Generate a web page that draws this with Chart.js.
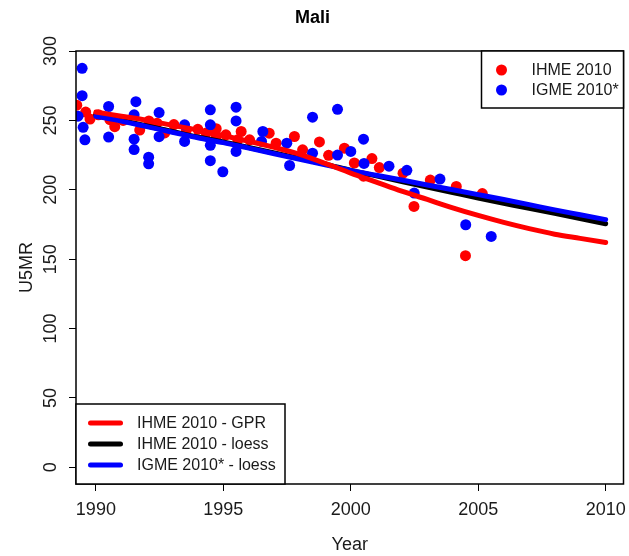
<!DOCTYPE html>
<html>
<head>
<meta charset="utf-8">
<script src="https://cdn.jsdelivr.net/npm/chart.js@4.4.1/dist/chart.umd.min.js"></script>
<style>
  html, body { margin: 0; padding: 0; background: #fff; }
</style>
</head>
<body>
<canvas id="myChart" width="629" height="556"></canvas>
<script>
// survey points
var ihmeYears = [1989.25, 1989.6, 1989.77, 1990.1, 1990.55, 1990.74, 1991.07, 1991.72, 1992.08, 1992.4,
                 1992.7, 1993.06, 1993.55, 1994.0, 1994.33, 1994.72, 1994.72, 1995.1, 1995.57, 1995.7,
                 1996.03, 1996.8, 1997.07, 1997.79, 1998.11, 1998.77, 1999.13, 1999.75, 2000.14, 2000.5,
                 2000.83, 2001.12, 2002.05, 2002.48, 2003.12, 2004.14, 2004.5, 2005.16];
var ihmeU5mr  = [261, 256, 251, 254, 250.5, 245.5, 250, 243, 249.6, 248,
                 241, 247, 243, 243.6, 241, 244, 238, 239.6, 236, 242,
                 236, 240.8, 233.6, 238.4, 228.8, 234.5, 224.8, 230, 219.3, 209.8,
                 222.5, 216, 212, 188, 207, 202.4, 152.5, 197.3];

var igmeYears = [1989.3, 1989.46, 1989.46, 1989.5, 1989.57, 1990.5, 1990.5, 1991.57, 1991.5, 1991.5,
                 1991.5, 1992.07, 1992.07, 1992.48, 1992.48, 1993.48, 1993.48, 1994.49, 1994.49, 1994.49,
                 1994.49, 1994.98, 1995.5, 1995.5, 1995.5, 1996.55, 1996.5, 1997.49, 1997.6, 1998.5,
                 1998.5, 1999.48, 1999.48, 2000.0, 2000.5, 2000.52, 2001.5, 2002.2, 2002.49, 2003.5,
                 2004.51, 2005.51];
var igmeU5mr  = [253, 287.5, 267.8, 245, 236, 260, 238, 263.5, 254, 236.5,
                 229, 223.5, 218.7, 255.6, 238.3, 246.8, 234.8, 257.6, 246.8, 232,
                 221, 213, 259.5, 249.6, 227.6, 242, 234.8, 233.6, 217.5, 252.3,
                 226.4, 258, 225, 227.6, 236.5, 219, 217, 214, 197.6, 207.7,
                 174.8, 166.4];

// fitted curves
var fitYears  = [1990, 1991, 1992, 1993, 1994, 1995, 1996, 1997, 1998, 1999, 2000,
                 2001, 2002, 2003, 2004, 2005, 2006, 2007, 2008, 2009, 2010];
var gprU5mr   = [256, 253, 250, 246.5, 243, 239, 235, 230.5, 225.5, 219, 212,
                 205.5, 199, 193, 187, 181.5, 176.5, 172, 168, 165, 162];
var ihmeLoess = [254, 250, 246, 242, 238, 234.5, 230.5, 226.5, 222.5, 218.5, 214,
                 210, 206, 202, 198, 194, 190.3, 186.6, 183, 179.3, 175.5];
var igmeLoess = [253, 249.5, 245.5, 241.5, 237.5, 234, 230, 226, 222, 218, 214,
                 210.5, 207, 203.5, 200, 196.5, 193, 189.3, 185.5, 182, 178.5];

var xTicks = [1990, 1995, 2000, 2005, 2010];
var yTicks = [0, 50, 100, 150, 200, 250, 300];

function pairs(xs, ys) {
    return xs.map(function (x, i) { return { x: x, y: ys[i] }; });
}

var FONT = 'Liberation Sans, Arial, sans-serif';
var ink = '#1a1a1a';

// R style box and the two legends
var rLegends = {
    id: 'rLegends',
    afterDatasetsDraw: function (chart) {
        var c = chart.ctx, a = chart.chartArea, ds = chart.data.datasets;
        c.save();
        c.strokeStyle = '#000';
        c.lineWidth = 1.5;
        c.strokeRect(a.left, a.top, a.right - a.left, a.bottom - a.top);

        c.font = '16px ' + FONT;
        c.textBaseline = 'middle';
        c.textAlign = 'left';

        // point legend, top right
        var w = 142, h = 57, lx = a.right - w, ly = a.top;
        c.fillStyle = '#fff';
        c.fillRect(lx, ly, w, h);
        c.strokeRect(lx, ly, w, h);
        [0, 1].forEach(function (k, i) {
            var y = ly + 19 + i * 20;
            c.fillStyle = ds[k].backgroundColor;
            c.beginPath();
            c.arc(lx + 20, y, 5.5, 0, Math.PI * 2);
            c.fill();
            c.fillStyle = ink;
            c.fillText(ds[k].label, lx + 50, y + 1);
        });

        // line legend, bottom left
        w = 209; h = 80; lx = a.left; ly = a.bottom - h;
        c.fillStyle = '#fff';
        c.fillRect(lx, ly, w, h);
        c.strokeRect(lx, ly, w, h);
        c.lineCap = 'round';
        [2, 3, 4].forEach(function (k, i) {
            var y = ly + 19 + i * 21;
            c.strokeStyle = ds[k].borderColor;
            c.lineWidth = 5;
            c.beginPath();
            c.moveTo(lx + 14.5, y);
            c.lineTo(lx + 44.5, y);
            c.stroke();
            c.fillStyle = ink;
            c.fillText(ds[k].label, lx + 61, y + 1);
        });
        c.restore();
    }
};

var ctx = document.getElementById('myChart').getContext('2d');
var chart = new Chart(ctx, {
    type: 'scatter',
    data: {
        datasets: [{
            label: 'IHME 2010',
            data: pairs(ihmeYears, ihmeU5mr),
            backgroundColor: '#ff0000',
            pointRadius: 5.5,
            pointBorderWidth: 0,
            order: 5
        }, {
            label: 'IGME 2010*',
            data: pairs(igmeYears, igmeU5mr),
            backgroundColor: '#0000ff',
            pointRadius: 5.5,
            pointBorderWidth: 0,
            order: 4
        }, {
            label: 'IHME 2010 - GPR',
            data: pairs(fitYears, gprU5mr),
            showLine: true,
            borderColor: '#ff0000',
            borderWidth: 5,
            pointRadius: 0,
            cubicInterpolationMode: 'monotone',
            borderCapStyle: 'round',
            order: 1
        }, {
            label: 'IHME 2010 - loess',
            data: pairs(fitYears, ihmeLoess),
            showLine: true,
            borderColor: '#000000',
            borderWidth: 5,
            pointRadius: 0,
            cubicInterpolationMode: 'monotone',
            borderCapStyle: 'round',
            order: 3
        }, {
            label: 'IGME 2010* - loess',
            data: pairs(fitYears, igmeLoess),
            showLine: true,
            borderColor: '#0000ff',
            borderWidth: 5,
            pointRadius: 0,
            cubicInterpolationMode: 'monotone',
            borderCapStyle: 'round',
            order: 2
        }]
    },
    options: {
        responsive: false,
        animation: false,
        layout: { padding: { left: 0, right: 4, top: 0, bottom: 0 } },
        plugins: {
            legend: { display: false },
            tooltip: { enabled: false },
            title: {
                display: true,
                text: 'Mali',
                color: '#000',
                font: { family: FONT, size: 18, weight: 'bold' },
                padding: { top: 7, bottom: 22.4 }
            }
        },
        scales: {
            x: {
                type: 'linear',
                min: 1989.22,
                max: 2010.7,
                afterBuildTicks: function (s) { s.ticks = xTicks.map(function (v) { return { value: v }; }); },
                afterFit: function (s) { s.height = 72; s.paddingLeft = 0; s.paddingRight = 0; },
                ticks: {
                    color: ink,
                    font: { family: FONT, size: 18 },
                    padding: 8,
                    maxRotation: 0,
                    autoSkip: false,
                    callback: function (v) { return String(v); }
                },
                grid: { drawOnChartArea: false, drawTicks: true, tickLength: 7, color: '#000', lineWidth: 1 },
                border: { display: false },
                title: {
                    display: true,
                    text: 'Year',
                    color: ink,
                    font: { family: FONT, size: 18 },
                    padding: { top: 0, bottom: 0 }
                }
            },
            y: {
                type: 'linear',
                min: -12,
                max: 300,
                afterBuildTicks: function (s) { s.ticks = yTicks.map(function (v) { return { value: v }; }); },
                afterFit: function (s) { s.width = 76; s.paddingTop = 0; s.paddingBottom = 0; },
                ticks: {
                    color: ink,
                    font: { family: FONT, size: 18 },
                    padding: 3,
                    minRotation: 90,
                    maxRotation: 90,
                    crossAlign: 'center',
                    autoSkip: false,
                    callback: function (v) { return String(v); }
                },
                grid: { drawOnChartArea: false, drawTicks: true, tickLength: 7, color: '#000', lineWidth: 1 },
                border: { display: false },
                title: {
                    display: true,
                    text: 'U5MR',
                    color: ink,
                    font: { family: FONT, size: 18 },
                    padding: { top: 16, bottom: 0 }
                }
            }
        }
    },
    plugins: [rLegends]
});
</script>
</body>
</html>
